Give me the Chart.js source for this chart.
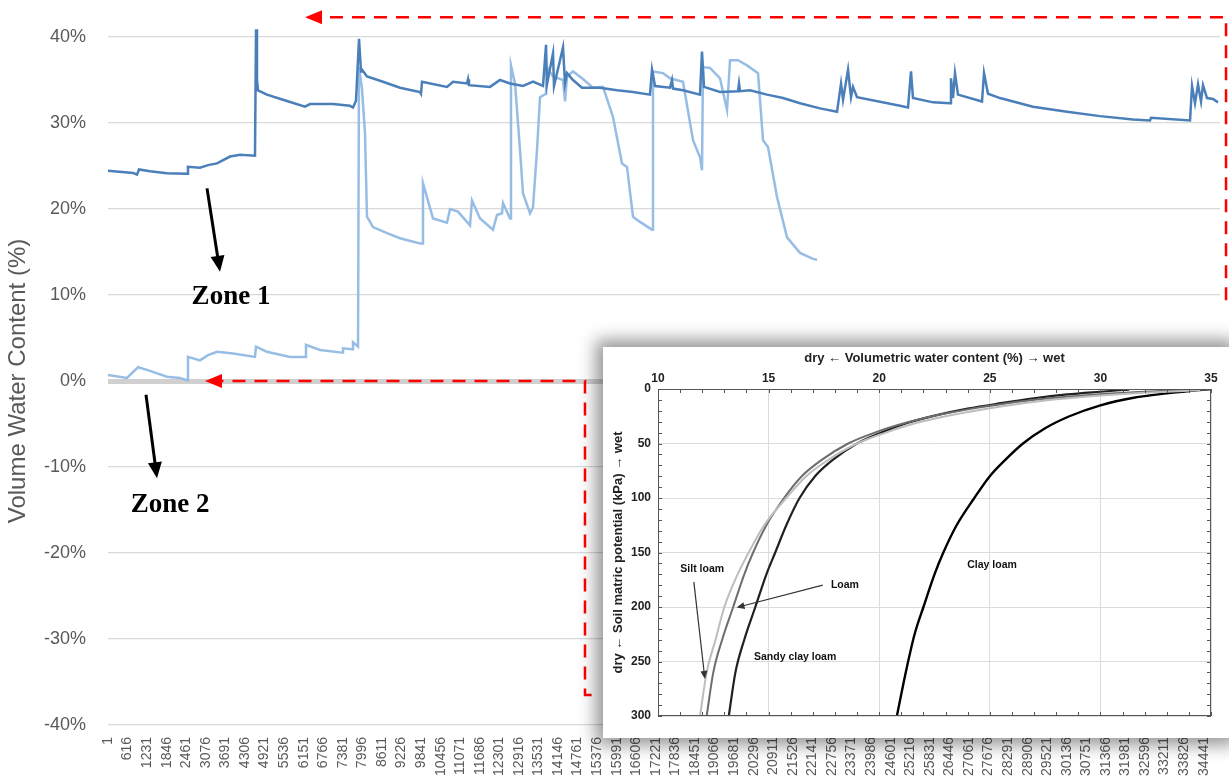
<!DOCTYPE html>
<html>
<head>
<meta charset="utf-8">
<script src="https://cdn.jsdelivr.net/npm/chart.js@4.4.1/dist/chart.umd.min.js"></script>
<style>
  html, body { margin: 0; padding: 0; background: #fff; overflow: hidden; }
  #wrap { position: relative; width: 1229px; height: 778px; }
  #inset {
    position: absolute; left: 603px; top: 347px; width: 626px; height: 391px;
    background: #fff; box-shadow: 0 0 16px 7px rgba(0, 0, 0, 0.42);
  }
</style>
</head>
<body>
<div id="wrap">
  <canvas id="main" width="1229" height="778"></canvas>
  <div id="inset"><canvas id="soil" width="626" height="391"></canvas></div>
</div>
<script>
// ---- main chart data (sample index, volume water content %) ----
const xTickLabels = [1, 616, 1231, 1846, 2461, 3076, 3691, 4306, 4921, 5536, 6151, 6766, 7381, 7996,
  8611, 9226, 9841, 10456, 11071, 11686, 12301, 12916, 13531, 14146, 14761, 15376, 15991, 16606,
  17221, 17836, 18451, 19066, 19681, 20296, 20911, 21526, 22141, 22756, 23371, 23986, 24601, 25216,
  25831, 26446, 27061, 27676, 28291, 28906, 29521, 30136, 30751, 31366, 31981, 32596, 33211, 33826, 34441]
const yTickValues = [-40, -30, -20, -10, 0, 10, 20, 30, 40]

const darkIdx = [1, 787, 912, 975, 1321, 1855, 2484, 2515, 2893, 3144, 3427, 3836, 4150, 4621, 4653, 4684,
  4716, 4998, 5501, 6193, 6350, 7073, 7607, 7701, 7796, 7890, 7953, 7984, 8141, 8644, 9178, 9807, 9838,
  9870, 10656, 10844, 11284, 11316, 11347, 12007, 12322, 12636, 13045, 13359, 13673, 13768, 13799, 13988,
  14019, 14302, 14365, 14428, 14616, 14899, 15465, 15999, 16502, 17036, 17099, 17193, 17665, 17727, 17759,
  18073, 18608, 18670, 18733, 19236, 19802, 19834, 19865, 20180, 20714, 21217, 21751, 22380, 22914, 23040,
  23103, 23260, 23354, 23417, 23543, 24894, 25145, 25239, 25302, 25931, 26465, 26496, 26559, 26622, 26716,
  27471, 27534, 27659, 28036, 29074, 30142, 31180, 32217, 32752, 32783, 34009, 34072, 34165, 34260, 34354,
  34417, 34543, 34731, 34888]
const darkVal = [24.45, 24.2, 24.0, 24.6, 24.4, 24.15, 24.1, 24.9, 24.8, 25.1, 25.3, 26.1, 26.3, 26.2, 40.9, 35.0,
  33.8, 33.3, 32.7, 31.9, 32.2, 32.2, 32.0, 31.8, 32.6, 39.8, 36.0, 36.2, 35.4, 34.8, 34.1, 33.6, 33.4,
  34.8, 34.2, 34.8, 34.6, 35.1, 34.4, 34.2, 35.0, 34.6, 34.3, 34.8, 34.3, 39.1, 34.5, 38.1,
  34.3, 38.8, 34.6, 35.8, 35.0, 34.1, 34.1, 33.8, 33.6, 33.3, 36.2, 34.3, 34.1, 35.0, 34.0,
  33.8, 33.3, 38.3, 34.2, 33.6, 33.7, 34.6, 33.7, 33.8, 33.3, 32.9, 32.3, 31.7, 31.3, 34.6,
  32.7, 36.2, 33.0, 34.2, 33.0, 32.0, 31.8, 36.0, 32.9, 32.4, 32.3, 35.2, 32.9, 35.8, 33.3,
  32.5, 35.8, 33.4, 32.9, 31.9, 31.3, 30.8, 30.4, 30.3, 30.6, 30.3, 34.3, 32.3, 34.5, 32.5,
  34.4, 32.9, 32.8, 32.4]

const lightIdx = [1, 598, 944, 1227, 1855, 2264, 2484, 2515, 2893, 3144, 3427, 3930, 4621, 4653, 4998, 5721,
  6193, 6224, 6664, 7356, 7387, 7670, 7701, 7859, 7890, 7984, 8078, 8141, 8330, 8770, 9178, 9807, 9870,
  9901, 10216, 10656, 10750, 11001, 11379, 11441, 11693, 12101, 12227, 12384, 12416, 12636, 12667, 12793,
  12950, 13045, 13265, 13359, 13485, 13579, 13768, 13799, 13988, 14302, 14365, 14428, 14616, 14899, 15245,
  15559, 15873, 16156, 16313, 16502, 16722, 17099, 17130, 17445, 17665, 18073, 18388, 18608, 18670, 18702,
  18922, 19236, 19456, 19551, 19802, 20085, 20431, 20588, 20745, 21028, 21343, 21751, 22160, 22285]
const lightVal = [0.7, 0.35, 1.6, 1.3, 0.5, 0.35, 0.1, 2.8, 2.4, 3.0, 3.4, 3.2, 2.8, 4.0, 3.4, 2.8,
  2.8, 4.2, 3.6, 3.3, 3.8, 3.7, 4.5, 4.0, 36.5, 34.0, 28.8, 19.1, 17.9, 17.2, 16.6, 16.0, 16.0,
  23.0, 18.9, 18.4, 20.0, 19.7, 18.1, 21.0, 18.9, 17.6, 19.3, 19.5, 20.7, 18.9, 36.7, 34.6,
  26.9, 21.8, 19.5, 20.2, 26.9, 33.0, 33.4, 36.5, 35.4, 35.0, 32.5, 35.4, 36.0, 35.2, 34.1,
  34.2, 30.7, 25.3, 24.9, 19.1, 18.5, 17.6, 36.0, 35.8, 35.2, 34.8, 28.0, 26.0, 24.5, 36.5,
  36.4, 35.2, 31.5, 37.3, 37.3, 36.7, 35.8, 28.0, 27.2, 21.4, 16.7, 14.9, 14.2, 14.1]

// ---- inset data: volumetric water content (%) vs soil matric potential (kPa) ----
const siltX = [11.9, 12.2, 12.6, 13.0, 13.6, 14.1, 14.8, 15.8, 16.7, 17.7, 19.0, 20.3, 21.7, 23.0, 24.6, 26.2, 28.0, 30.0, 32.0, 33.5, 34.5]
const siltY = [300, 260, 230, 200, 170, 150, 125, 100, 80, 65, 50, 40, 31, 25, 19, 14, 9.5, 6, 3.5, 2, 1]
const loamX = [12.2, 12.5, 12.9, 13.4, 13.9, 14.3, 14.9, 15.7, 16.5, 17.4, 18.6, 19.8, 21.2, 22.6, 24.2, 25.8, 27.5, 29.5, 31.5, 33.5, 35.0]
const loamY = [300, 260, 230, 200, 170, 150, 125, 100, 80, 65, 50, 40, 31, 24, 18, 13, 9, 5.5, 3, 1.2, 0.3]
const sandyX = [13.2, 13.5, 13.9, 14.4, 14.9, 15.3, 15.8, 16.4, 17.1, 17.9, 19.0, 20.1, 21.3, 22.6, 24.0, 25.5, 27.0, 28.5, 30.0, 31.3]
const sandyY = [300, 260, 230, 200, 170, 150, 125, 100, 80, 65, 50, 40, 31, 24, 18, 13, 8.5, 5, 2.5, 0.5]
const clayX = [20.8, 21.2, 21.6, 22.0, 22.5, 22.9, 23.5, 24.3, 25.0, 25.7, 26.5, 27.5, 28.6, 30.0, 31.5, 33.0, 34.2, 35.0]
const clayY = [300, 260, 225, 200, 170, 150, 125, 100, 80, 65, 50, 36, 25, 15, 8, 4, 1.5, 0]

const soilTags = ["Silt loam", "Loam", "Sandy clay loam", "Clay loam"]
const soilTagX = [12.0, 18.45, 16.2, 25.1]
const soilTagY = [165, 180, 246, 162]

const FONT = '"Liberation Sans", Arial, sans-serif'

function arrowHead(ctx, x0, y0, x1, y1, len, half, color) {
  const a = Math.atan2(y1 - y0, x1 - x0)
  const c = Math.cos(a), s = Math.sin(a)
  ctx.beginPath()
  ctx.moveTo(x1, y1)
  ctx.lineTo(x1 - len * c + half * s, y1 - len * s - half * c)
  ctx.lineTo(x1 - len * c - half * s, y1 - len * s + half * c)
  ctx.closePath()
  ctx.fillStyle = color
  ctx.fill()
}

function arrow(ctx, p0, p1, width, len, half, color) {
  const a = Math.atan2(p1[1] - p0[1], p1[0] - p0[0])
  ctx.setLineDash([])
  ctx.strokeStyle = color
  ctx.lineWidth = width
  ctx.beginPath()
  ctx.moveTo(p0[0], p0[1])
  ctx.lineTo(p1[0] - (len - 1) * Math.cos(a), p1[1] - (len - 1) * Math.sin(a))
  ctx.stroke()
  arrowHead(ctx, p0[0], p0[1], p1[0], p1[1], len, half, color)
}

// annotations on the main chart, placed through the chart's own scales
const zoneNotes = {
  id: "zoneNotes",
  afterDatasetsDraw(chart) {
    const { ctx, scales: { x, y } } = chart
    const P = (a, b) => [x.getPixelForValue(a), y.getPixelForValue(b)]
    ctx.save()

    // red dashed guides
    ctx.strokeStyle = "#ff0000"
    ctx.lineWidth = 2.5
    ctx.setLineDash([13, 9])
    const top = [P(35140, 9.4), P(35140, 42.3), P(6193, 42.3)]
    ctx.beginPath()
    top.forEach((p, i) => i ? ctx.lineTo(p[0], p[1]) : ctx.moveTo(p[0], p[1]))
    ctx.stroke()
    const low = [P(15200, -36.5), P(14993, -36.5), P(14993, 0), P(3050, 0)]
    ctx.beginPath()
    low.forEach((p, i) => i ? ctx.lineTo(p[0], p[1]) : ctx.moveTo(p[0], p[1]))
    ctx.stroke()
    arrowHead(ctx, top[1][0], top[1][1], top[2][0], top[2][1], 17, 7, "#ff0000")
    arrowHead(ctx, low[2][0], low[2][1], low[3][0], low[3][1], 17, 7, "#ff0000")

    // black pointers
    arrow(ctx, P(3113, 22.4), P(3521, 12.7), 3, 16, 7, "#000")
    arrow(ctx, P(1195, -1.6), P(1541, -11.3), 3, 16, 7, "#000")

    ctx.fillStyle = "#000"
    ctx.font = 'bold 27px "Liberation Serif", "Times New Roman", serif'
    ctx.textAlign = "center"
    ctx.textBaseline = "middle"
    let p = P(3867, 9.8)
    ctx.fillText("Zone 1", p[0], p[1])
    p = P(1950, -14.4)
    ctx.fillText("Zone 2", p[0], p[1])
    ctx.restore()
  }
}

new Chart(document.getElementById("main"), {
  type: "line",
  data: {
    datasets: [
      {
        label: "Zone 1",
        data: darkIdx.map((v, i) => ({ x: v, y: darkVal[i] })),
        borderColor: "#4a7fba",
        borderWidth: 2.5,
        pointRadius: 0,
        tension: 0,
        clip: false
      },
      {
        label: "Zone 2",
        data: lightIdx.map((v, i) => ({ x: v, y: lightVal[i] })),
        borderColor: "#97bde5",
        borderWidth: 2.5,
        pointRadius: 0,
        tension: 0,
        clip: false
      }
    ]
  },
  options: {
    responsive: false,
    animation: false,
    layout: { padding: { top: 37, right: 9, left: 0, bottom: 0 } },
    plugins: { legend: { display: false }, tooltip: { enabled: false } },
    scales: {
      x: {
        type: "linear",
        min: 1,
        max: 34951,
        afterBuildTicks: s => { s.ticks = xTickLabels.map(v => ({ value: v })) },
        afterFit: s => { s.height = 53 },
        ticks: {
          autoSkip: false,
          minRotation: 90,
          maxRotation: 90,
          padding: 4,
          color: "#595959",
          font: { family: FONT, size: 14 },
          callback: v => String(v)
        },
        grid: { display: false },
        border: { display: false }
      },
      y: {
        min: -40,
        max: 40,
        afterBuildTicks: s => { s.ticks = yTickValues.map(v => ({ value: v })) },
        afterFit: s => { s.width = 108 },
        ticks: {
          padding: 22,
          color: "#595959",
          font: { family: FONT, size: 18 },
          callback: v => v + "%"
        },
        grid: {
          drawTicks: false,
          color: c => c.tick && c.tick.value === 0 ? "#d0d0d0" : "#d9d9d9",
          lineWidth: c => c.tick && c.tick.value === 0 ? 5 : 1.3
        },
        border: { display: false },
        title: {
          display: true,
          text: "Volume Water Content (%)",
          color: "#595959",
          font: { family: FONT, size: 24 },
          padding: { top: 4, bottom: 0 }
        }
      }
    }
  },
  plugins: [zoneNotes]
})

// ---- inset: soil water retention curves ----
const soilDecor = {
  id: "soilDecor",
  afterDatasetsDraw(chart) {
    const { ctx, chartArea: a, scales: { x, y } } = chart
    ctx.save()
    ctx.strokeStyle = "#555"
    ctx.lineWidth = 1
    ctx.beginPath()
    x.ticks.forEach(t => {
      const px = Math.round(x.getPixelForValue(t.value)) + 0.5
      ctx.moveTo(px, a.top); ctx.lineTo(px, a.top + 4)
      ctx.moveTo(px, a.bottom); ctx.lineTo(px, a.bottom - 4)
    })
    y.ticks.forEach(t => {
      const py = Math.round(y.getPixelForValue(t.value)) + 0.5
      ctx.moveTo(a.left, py); ctx.lineTo(a.left + 4, py)
      ctx.moveTo(a.right, py); ctx.lineTo(a.right - 4, py)
    })
    ctx.stroke()
    ctx.strokeRect(Math.round(a.left) + 0.5, Math.round(a.top) + 0.5, Math.round(a.width) - 1, Math.round(a.height) - 1)

    ctx.fillStyle = "#111"
    ctx.font = "bold 10.5px " + FONT
    ctx.textAlign = "center"
    ctx.textBaseline = "middle"
    soilTags.forEach((t, i) => ctx.fillText(t, x.getPixelForValue(soilTagX[i]), y.getPixelForValue(soilTagY[i])))

    const P = (a1, b1) => [x.getPixelForValue(a1), y.getPixelForValue(b1)]
    arrow(ctx, P(17.45, 180), P(13.55, 200.5), 1.2, 8, 3.5, "#333")
    arrow(ctx, P(11.62, 177), P(12.12, 266), 1.2, 8, 3.5, "#333")
    ctx.restore()
  }
}

const curve = (xs, ys) => xs.map((v, i) => ({ x: v, y: ys[i] }))

new Chart(document.getElementById("soil"), {
  type: "scatter",
  data: {
    datasets: [
      { label: "Silt loam", data: curve(siltX, siltY), borderColor: "#bdbdbd", borderWidth: 2 },
      { label: "Loam", data: curve(loamX, loamY), borderColor: "#6d6d6d", borderWidth: 2 },
      { label: "Sandy clay loam", data: curve(sandyX, sandyY), borderColor: "#202020", borderWidth: 2.2 },
      { label: "Clay loam", data: curve(clayX, clayY), borderColor: "#000", borderWidth: 2.4 }
    ].map(d => Object.assign(d, { showLine: true, pointRadius: 0, cubicInterpolationMode: "monotone" }))
  },
  options: {
    responsive: false,
    animation: false,
    layout: { padding: { top: 0, left: 0, right: 18, bottom: 22 } },
    plugins: { legend: { display: false }, tooltip: { enabled: false } },
    scales: {
      x: {
        type: "linear",
        position: "top",
        min: 10,
        max: 35,
        afterFit: s => { s.height = 42 },
        ticks: {
          stepSize: 1,
          autoSkip: false,
          maxRotation: 0,
          padding: 3,
          color: "#222",
          font: { family: FONT, size: 12, weight: "bold" },
          callback: v => v % 5 === 0 ? String(v) : ""
        },
        grid: {
          drawTicks: false,
          color: c => c.tick && c.tick.value % 5 === 0 ? "#dcdcdc" : "rgba(0,0,0,0)"
        },
        border: { display: false },
        title: {
          display: true,
          text: "dry \u2190 Volumetric water content (%) \u2192 wet",
          color: "#222",
          font: { family: FONT, size: 13, weight: "bold" },
          padding: { top: 4, bottom: 2 }
        }
      },
      y: {
        type: "linear",
        reverse: true,
        min: 0,
        max: 300,
        afterFit: s => { s.width = 55 },
        ticks: {
          stepSize: 10,
          autoSkip: false,
          padding: 7,
          color: "#222",
          font: { family: FONT, size: 12, weight: "bold" },
          callback: v => v % 50 === 0 ? String(v) : ""
        },
        grid: {
          drawTicks: false,
          color: c => c.tick && c.tick.value % 50 === 0 ? "#dcdcdc" : "rgba(0,0,0,0)"
        },
        border: { display: false },
        title: {
          display: true,
          text: "dry \u2190 Soil matric potential (kPa) \u2192 wet",
          color: "#222",
          font: { family: FONT, size: 13, weight: "bold" },
          padding: { top: 8, bottom: 0 }
        }
      }
    }
  },
  plugins: [soilDecor]
})
</script>
</body>
</html>
